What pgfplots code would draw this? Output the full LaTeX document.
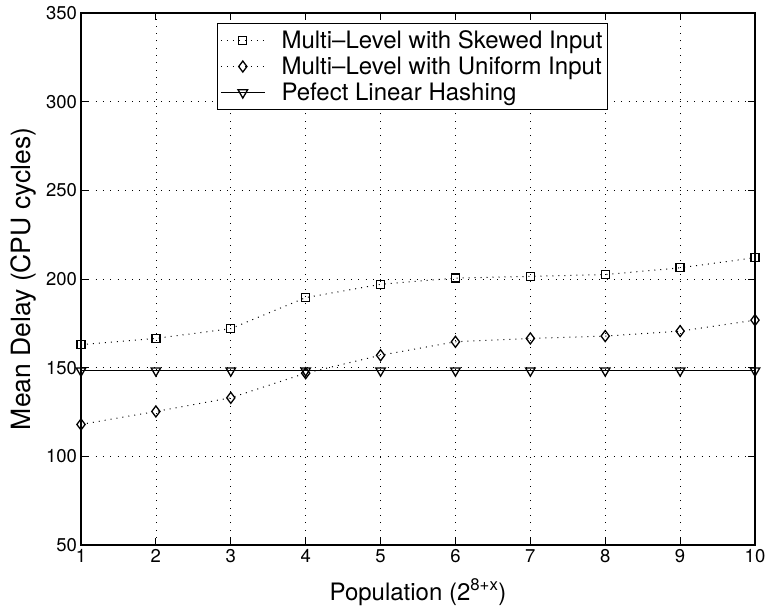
\documentclass[border=0pt]{standalone}
\usepackage{fontspec}
\setmainfont{TeX Gyre Heros}
\usepackage{pgfplots}
\pgfplotsset{compat=1.18}
\begin{document}
\begin{tikzpicture}[font=\fontsize{18.5}{22}\selectfont]
\begin{axis}[
  scale only axis, width=674pt, height=532pt,
  xmin=1, xmax=10, ymin=50, ymax=350,
  xtick={1,2,...,10}, ytick={50,100,...,350},
  tick align=inside, major tick length=7pt,
  tick style={black, line width=0.8pt},
  axis line style={black, line width=1.1pt},
  grid=major,
  major grid style={black, line width=0.75pt, dash pattern=on 0.8pt off 6.5pt},
  /pgf/number format/assume math mode=true,
  tick label style={font=\fontsize{18.5}{22}\selectfont},
  xticklabel style={yshift=-1pt},
  yticklabel style={xshift=-0.5pt},
  xlabel={Population (2\textsuperscript{8+x})},
  ylabel={Mean Delay (CPU cycles)},
  xlabel style={font=\fontsize{24}{28}\selectfont, at={(axis description cs:0.5,-0.1034)}, anchor=base},
  ylabel style={font=\fontsize{26.5}{30}\selectfont, at={(axis description cs:-0.0846,0.5)}, anchor=center},
  legend style={at={(axis description cs:0.2013,0.981)}, anchor=north west, draw=black, line width=0.9pt, fill=white, font=\fontsize{24}{28}\selectfont, inner xsep=3pt, inner ysep=5pt, row sep=3pt, column sep=14pt, nodes={inner sep=2pt}},
  legend cell align=left,
  legend image code/.code={\draw[mark repeat=2,mark phase=2,#1] plot coordinates {(0pt,0pt) (22pt,0pt) (44pt,0pt)};},
  clip=false,
]
\addplot[black, line width=1pt, dash pattern=on 1pt off 5pt, mark=square, mark size=4pt, mark options={solid, line width=1.3pt}]
  coordinates {(1,163) (2,166.5) (3,172) (4,189.5) (5,197) (6,200.5) (7,201.5) (8,202.5) (9,206.3) (10,212)};
\addlegendentry{Multi–Level with Skewed Input}
\addplot[black, line width=1pt, dash pattern=on 1pt off 5pt, mark=diamond, mark size=5.5pt, mark options={solid, line width=1.3pt}]
  coordinates {(1,118) (2,125.3) (3,133) (4,146.9) (5,157) (6,164.6) (7,166.5) (8,167.8) (9,170.6) (10,176.8)};
\addlegendentry{Multi–Level with Uniform Input}
\addplot[black, line width=1.4pt, mark=triangle, mark size=5.5pt, mark options={solid, rotate=180, line width=1.3pt}]
  coordinates {(1,148.3) (2,148.3) (3,148.3) (4,148.3) (5,148.3) (6,148.3) (7,148.3) (8,148.3) (9,148.3) (10,148.3)};
\addlegendentry{Pefect Linear Hashing}
\end{axis}
\pgfresetboundingbox
\path[use as bounding box] ([xshift=-81pt,yshift=-66pt]current axis.south west) rectangle ([xshift=14pt,yshift=13pt]current axis.north east);
\end{tikzpicture}
\end{document}
